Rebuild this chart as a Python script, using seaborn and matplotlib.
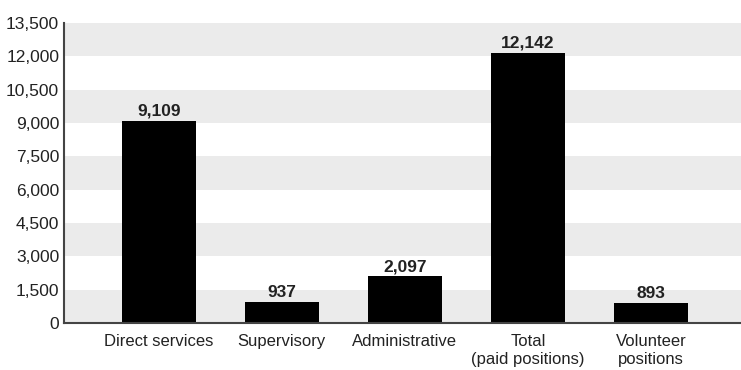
import matplotlib
matplotlib.use("Agg")
import matplotlib.pyplot as plt
import seaborn as sns
import pandas as pd

categories = ["Direct services", "Supervisory", "Administrative",
              "Total\n(paid positions)", "Volunteer\npositions"]
values = [9109, 937, 2097, 12142, 893]
yticks = list(range(0, 13501, 1500))

sns.set_theme(style="white")
plt.rcParams["font.family"] = ["Liberation Sans", "DejaVu Sans"]

df = pd.DataFrame({"category": categories, "value": values})

fig = plt.figure(figsize=(7.41, 3.70), dpi=100)
ax = fig.add_axes([64 / 741, 1 - 323 / 370, 677 / 741, 300 / 370])

# alternating horizontal bands
for i, lo in enumerate(yticks[:-1]):
    if i % 2 == 0:
        ax.axhspan(lo, lo + 1500, color="#ebebeb", zorder=0, lw=0)

sns.barplot(data=df, x="category", y="value", color="black", width=0.6,
            saturation=1, linewidth=0, edgecolor="none", ax=ax, zorder=2)

for i, v in enumerate(values):
    ax.text(i, v + 100, f"{v:,}", ha="center", va="bottom",
            fontsize=12.5, fontweight="bold", color="#222222")

ax.set_ylim(0, 13500)
ax.set_xlim(-0.77, 4.73)
ax.set_yticks(yticks)
ax.set_yticklabels([f"{t:,}" for t in yticks], fontsize=12.5, color="#222222")
ax.tick_params(axis="x", labelsize=12, labelcolor="#222222", pad=8)
ax.tick_params(axis="both", length=0)
ax.set_xlabel("")
ax.set_ylabel("")
for s in ["top", "right"]:
    ax.spines[s].set_visible(False)
for s in ["left", "bottom"]:
    ax.spines[s].set_color("#444444")
    ax.spines[s].set_linewidth(1.5)
    ax.spines[s].set_zorder(3)

fig.savefig("out.png", dpi=100)
